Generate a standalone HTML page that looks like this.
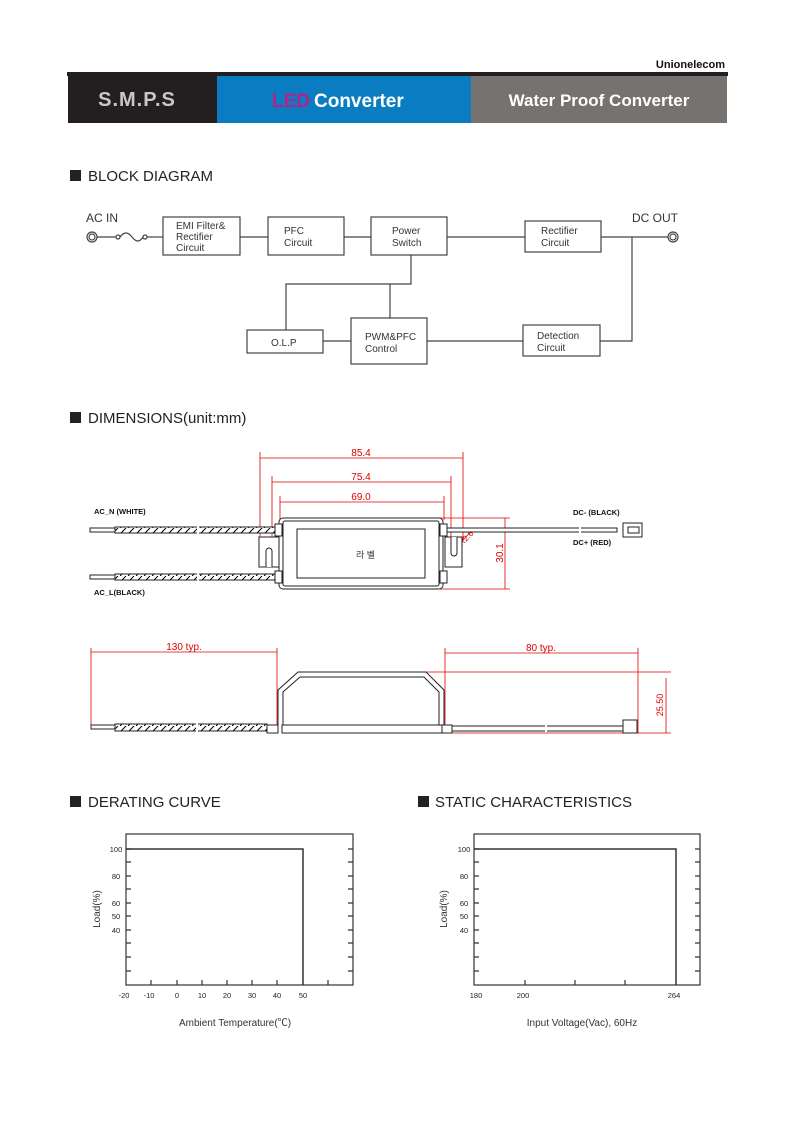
<!DOCTYPE html>
<html><head><meta charset="utf-8"><style>
html,body{margin:0;padding:0;background:#fff;}
svg{display:block;}
text{font-family:"Liberation Sans","Noto Sans CJK KR",sans-serif;}
</style></head><body>
<svg width="793" height="1121" viewBox="0 0 793 1121" xmlns="http://www.w3.org/2000/svg">
<defs>
<pattern id="hatch" width="8" height="6" patternUnits="userSpaceOnUse">
<rect width="8" height="6" fill="#fff"/>
<line x1="0" y1="6" x2="6" y2="0" stroke="#000" stroke-width="1"/>
</pattern>
</defs>
<!-- header -->
<text x="725" y="68" font-size="11" font-weight="bold" text-anchor="end" fill="#111">Unionelecom</text>
<rect x="67" y="72" width="661" height="4" fill="#231f20"/>
<rect x="68" y="76" width="149" height="47" fill="#231f20"/>
<rect x="217" y="76" width="254" height="47" fill="#0a7cc1"/>
<rect x="471" y="76" width="256" height="47" fill="#757270"/>
<text x="137" y="106" font-size="20" font-weight="bold" fill="#c8c8c8" text-anchor="middle" letter-spacing="1">S.M.P.S</text>
<text x="272" y="107" font-size="19" font-weight="bold" fill="#b5208a">LED</text>
<text x="314" y="107" font-size="19" font-weight="bold" fill="#fff">Converter</text>
<text x="599" y="106" font-size="17" font-weight="bold" fill="#fff" text-anchor="middle">Water Proof Converter</text>

<!-- headings -->
<g font-size="15" fill="#222">
<rect x="70" y="170" width="11" height="11" fill="#222"/><text x="88" y="181">BLOCK DIAGRAM</text>
<rect x="70" y="412" width="11" height="11" fill="#222"/><text x="88" y="423">DIMENSIONS(unit:mm)</text>
<rect x="70" y="796" width="11" height="11" fill="#222"/><text x="88" y="807">DERATING CURVE</text>
<rect x="418" y="796" width="11" height="11" fill="#222"/><text x="435" y="807">STATIC CHARACTERISTICS</text>
</g>

<!-- block diagram -->
<g stroke="#444" stroke-width="1.2" fill="none">
<circle cx="92" cy="237" r="5"/><circle cx="92" cy="237" r="3"/>
<circle cx="673" cy="237" r="5"/><circle cx="673" cy="237" r="3"/>
<line x1="97" y1="237" x2="116" y2="237"/>
<circle cx="118" cy="237" r="2"/><path d="M120 237 Q126 229 132 237 Q138 245 143 237"/><circle cx="145" cy="237" r="2"/>
<line x1="147" y1="237" x2="163" y2="237"/>
<line x1="240" y1="237" x2="268" y2="237"/>
<line x1="344" y1="237" x2="371" y2="237"/>
<line x1="447" y1="237" x2="525" y2="237"/>
<line x1="601" y1="237" x2="668" y2="237"/>
<rect x="163" y="217" width="77" height="38"/>
<rect x="268" y="217" width="76" height="38"/>
<rect x="371" y="217" width="76" height="38"/>
<rect x="525" y="221" width="76" height="31"/>
<rect x="247" y="330" width="76" height="23"/>
<rect x="351" y="318" width="76" height="46"/>
<rect x="523" y="325" width="77" height="31"/>
<polyline points="411,255 411,284 286,284 286,330"/>
<line x1="390" y1="284" x2="390" y2="318"/>
<line x1="323" y1="341" x2="351" y2="341"/>
<line x1="427" y1="341" x2="523" y2="341"/>
<polyline points="600,341 632,341 632,237"/>
</g>
<g font-size="10" fill="#333">
<text x="86" y="222" font-size="12">AC IN</text>
<text x="632" y="222" font-size="12">DC OUT</text>
<text x="176" y="229">EMI Filter&amp;</text><text x="176" y="240">Rectifier</text><text x="176" y="251">Circuit</text>
<text x="284" y="234">PFC</text><text x="284" y="246">Circuit</text>
<text x="392" y="234">Power</text><text x="392" y="246">Switch</text>
<text x="541" y="234">Rectifier</text><text x="541" y="246">Circuit</text>
<text x="271" y="346">O.L.P</text>
<text x="365" y="340">PWM&amp;PFC</text><text x="365" y="352">Control</text>
<text x="537" y="339">Detection</text><text x="537" y="351">Circuit</text>
</g>

<!-- top view dimensions -->
<g stroke="#d00" stroke-width="0.8" fill="none">
<line x1="260" y1="458" x2="463" y2="458"/>
<line x1="260" y1="452" x2="260" y2="540"/><line x1="463" y1="452" x2="463" y2="540"/>
<line x1="272" y1="482" x2="451" y2="482"/>
<line x1="272" y1="476" x2="272" y2="560"/><line x1="451" y1="476" x2="451" y2="560"/>
<line x1="280" y1="502" x2="444" y2="502"/>
<line x1="280" y1="496" x2="280" y2="520"/><line x1="444" y1="496" x2="444" y2="520"/>
<line x1="505" y1="518" x2="505" y2="589"/>
<line x1="440" y1="518" x2="510" y2="518"/><line x1="440" y1="589" x2="510" y2="589"/>
<line x1="454" y1="550" x2="474" y2="528"/>
</g>
<g font-size="10" fill="#d00" text-anchor="middle">
<text x="361" y="456">85.4</text>
<text x="361" y="480">75.4</text>
<text x="361" y="500">69.0</text>
<text transform="translate(503,553) rotate(-90)">30.1</text>
<text transform="translate(468,540) rotate(-45)" font-size="8">R2.6</text>
</g>
<g stroke="#222" stroke-width="1" fill="#fff">
<rect x="90" y="528" width="25" height="4"/><rect x="115" y="527" width="164" height="6" fill="url(#hatch)"/>
<rect x="90" y="575" width="25" height="4"/><rect x="115" y="574" width="164" height="6" fill="url(#hatch)"/>
<path d="M259 537 H279 V567 H259 Z"/><path d="M266 567 V551 A3 3 0 0 1 272 551 V567"/>
<path d="M445 537 H462 V567 H445 Z"/><path d="M451 537 V553 A3 3 0 0 0 457 553 V537"/>
<rect x="279" y="518" width="164" height="71" rx="4"/>
<rect x="283" y="521" width="156" height="65" rx="2"/>
<rect x="297" y="529" width="128" height="49"/>
<rect x="275" y="524" width="7" height="12"/><rect x="275" y="571" width="7" height="12"/>
<rect x="440" y="524" width="7" height="12"/><rect x="440" y="571" width="7" height="12"/>
<rect x="447" y="528" width="170" height="4"/>
<rect x="623" y="523" width="19" height="14"/><rect x="628" y="527" width="11" height="6"/>
</g>
<g stroke="#fff" stroke-width="2"><line x1="198" y1="526" x2="198" y2="534"/><line x1="198" y1="573" x2="198" y2="581"/><line x1="580" y1="527" x2="580" y2="533"/></g>
<g font-size="7.5" font-weight="bold" fill="#111">
<text x="94" y="514">AC_N (WHITE)</text>
<text x="94" y="595">AC_L(BLACK)</text>
<text x="573" y="515">DC- (BLACK)</text>
<text x="573" y="545">DC+ (RED)</text>
</g>
<text x="356" y="558" font-size="9" fill="#333">라 벨</text>

<!-- side view -->
<g stroke="#d00" stroke-width="0.8" fill="none">
<line x1="91" y1="652" x2="277" y2="652"/><line x1="91" y1="648" x2="91" y2="727"/><line x1="277" y1="648" x2="277" y2="725"/>
<line x1="445" y1="653" x2="638" y2="653"/><line x1="445" y1="648" x2="445" y2="727"/><line x1="638" y1="648" x2="638" y2="733"/>
<line x1="425" y1="672" x2="671" y2="672"/><line x1="442" y1="733" x2="671" y2="733"/>
<line x1="666" y1="678" x2="666" y2="733"/>
</g>
<g font-size="10" fill="#d00" text-anchor="middle">
<text x="184" y="650">130 typ.</text>
<text x="541" y="651">80 typ.</text>
<text transform="translate(663,705) rotate(-90)" font-size="9">25.50</text>
</g>
<g stroke="#222" stroke-width="1" fill="#fff">
<path d="M278 725 V690 L298 672 H426 L444 690 V725"/>
<path d="M283 725 V692 L300 677 H424 L439 692 V725" fill="none"/>
<rect x="282" y="725" width="160" height="8"/>
<rect x="91" y="725" width="25" height="4"/><rect x="115" y="724" width="152" height="7" fill="url(#hatch)"/>
<rect x="267" y="725" width="11" height="8"/>
<rect x="442" y="725" width="10" height="8"/>
<rect x="452" y="726" width="171" height="5"/>
<rect x="623" y="720" width="14" height="13"/>
</g>
<g stroke="#fff" stroke-width="2"><line x1="197" y1="723" x2="197" y2="732"/><line x1="546" y1="725" x2="546" y2="732"/></g>

<!-- derating curve -->
<g stroke="#333" stroke-width="1.2" fill="none">
<rect x="126" y="834" width="227" height="151"/>
<polyline points="126,849 303,849 303,985" stroke-width="1.5"/>
<path d="M126 849h5M126 862h5M126 876h5M126 889h5M126 903h5M126 916h5M126 930h5M126 943h5M126 957h5M126 971h5"/>
<path d="M353 849h-5M353 862h-5M353 876h-5M353 889h-5M353 903h-5M353 916h-5M353 930h-5M353 943h-5M353 957h-5M353 971h-5"/>
<path d="M151 985v-5M177 985v-5M202 985v-5M227 985v-5M252 985v-5M277 985v-5M328 985v-5"/>
</g>
<g font-size="7.5" fill="#222" text-anchor="middle">
<text x="116" y="852">100</text><text x="116" y="879">80</text><text x="116" y="906">60</text><text x="116" y="919">50</text><text x="116" y="933">40</text>
<text x="124" y="998">-20</text><text x="149" y="998">-10</text><text x="177" y="998">0</text><text x="202" y="998">10</text><text x="227" y="998">20</text><text x="252" y="998">30</text><text x="277" y="998">40</text><text x="303" y="998">50</text>
</g>
<text transform="translate(100,909) rotate(-90)" font-size="10" fill="#333" text-anchor="middle">Load(%)</text>
<text x="235" y="1026" font-size="10" fill="#333" text-anchor="middle">Ambient Temperature(℃)</text>

<!-- static characteristics -->
<g stroke="#333" stroke-width="1.2" fill="none">
<rect x="474" y="834" width="226" height="151"/>
<polyline points="474,849 676,849 676,985" stroke-width="1.5"/>
<path d="M474 849h5M474 862h5M474 876h5M474 889h5M474 903h5M474 916h5M474 930h5M474 943h5M474 957h5M474 971h5"/>
<path d="M700 849h-5M700 862h-5M700 876h-5M700 889h-5M700 903h-5M700 916h-5M700 930h-5M700 943h-5M700 957h-5M700 971h-5"/>
<path d="M525 985v-5M575 985v-5M625 985v-5"/>
</g>
<g font-size="7.5" fill="#222" text-anchor="middle">
<text x="464" y="852">100</text><text x="464" y="879">80</text><text x="464" y="906">60</text><text x="464" y="919">50</text><text x="464" y="933">40</text>
<text x="476" y="998">180</text><text x="523" y="998">200</text><text x="674" y="998">264</text>
</g>
<text transform="translate(447,909) rotate(-90)" font-size="10" fill="#333" text-anchor="middle">Load(%)</text>
<text x="582" y="1026" font-size="10" fill="#333" text-anchor="middle">Input Voltage(Vac), 60Hz</text>
</svg>
</body></html>
